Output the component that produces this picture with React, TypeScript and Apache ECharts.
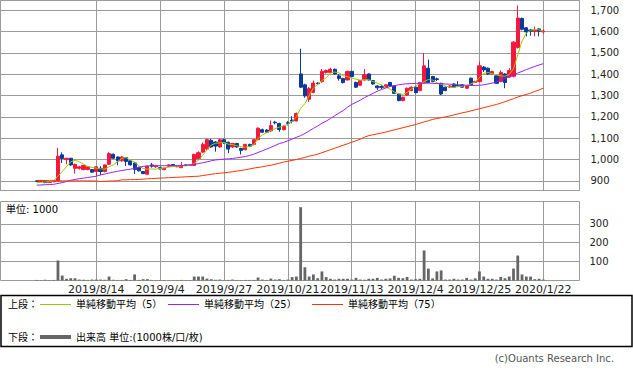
import React, { useEffect, useRef } from 'react';
import * as echarts from 'echarts';

// ---- trading dates (Tokyo market) ----
const jul2019 = [11, 12, 16, 17, 18, 19, 22, 23, 24, 25, 26, 29, 30, 31];
const aug2019 = [1, 2, 5, 6, 7, 8, 9, 13, 14, 15, 16, 19, 20, 21, 22, 23, 26, 27, 28, 29, 30];
const sep2019 = [2, 3, 4, 5, 6, 9, 10, 11, 12, 13, 17, 18, 19, 20, 24, 25, 26, 27, 30];
const oct2019 = [1, 2, 3, 4, 7, 8, 9, 10, 11, 15, 16, 17, 18, 21, 23, 24, 25, 28, 29, 30, 31];
const nov2019 = [1, 5, 6, 7, 8, 11, 12, 13, 14, 15, 18, 19, 20, 21, 22, 25, 26, 27, 28, 29];
const dec2019 = [2, 3, 4, 5, 6, 9, 10, 11, 12, 13, 16, 17, 18, 19, 20, 23, 24, 25, 26, 27, 30];
const jan2020 = [6, 7, 8, 9, 10, 14, 15, 16, 17, 20, 21, 22, 23, 24, 27, 28, 29, 30, 31];
const feb2020 = [3];

const categories: string[] = [
  ...jul2019.map((d) => `2019/7/${d}`),
  ...aug2019.map((d) => `2019/8/${d}`),
  ...sep2019.map((d) => `2019/9/${d}`),
  ...oct2019.map((d) => `2019/10/${d}`),
  ...nov2019.map((d) => `2019/11/${d}`),
  ...dec2019.map((d) => `2019/12/${d}`),
  ...jan2020.map((d) => `2020/1/${d}`),
  ...feb2020.map((d) => `2020/2/${d}`),
];

const dateTicks = ['2019/8/14', '2019/9/4', '2019/9/27', '2019/10/21', '2019/11/13', '2019/12/4', '2019/12/25', '2020/1/22'];
const priceTickMin = 900;
const priceTickMax = 1700;
const volumeTicks = [100, 200, 300];

// values per trading day from 2019/7/11 (no trades before 7/24)
const N = null;
const openP = [N, N, N, N, N, N, N, N,
  900, 898, 900, 893, 896, 900, 1022, 1000, 1006, 959,
  959, 953, 953, 953, 944, 959, 944, 978, 1025, 1012,
  994, 1009, 994, 984, 962, 944, 931, 975, 966, 962,
  953, 969, 977, 966, 962, 975, 972, 972, 1004, 1035,
  1049, 1090, 1082, 1059, 1093, 1081, 1059, 1075, 1052, 1046,
  1071, 1071, 1093, 1140, 1138, 1134, 1175, 1169, 1140, 1172,
  1185, 1181, 1401, 1350, 1282, 1315, 1358, 1365, 1408, 1408,
  1423, 1392, 1380, 1373, 1413, 1361, 1348, 1373, 1401, 1370,
  1345, 1342, 1339, 1361, 1345, 1307, 1276, 1302, 1323, 1339,
  1323, 1361, 1428, 1389, 1378, 1357, 1339, 1339, 1354, 1348,
  1350, 1334, 1381, 1361, 1365, 1433, 1428, 1401, 1392, 1365,
  1401, 1386, 1390, 1525, 1661, 1617, 1607, 1600, 1612, 1598];
const closeP = [N, N, N, N, N, N, N, N,
  898, 901, 892, 896, 899, 1016, 1005, 1006, 975, 978,
  966, 973, 966, 941, 966, 944, 975, 1028, 1006, 994,
  1012, 991, 975, 953, 947, 934, 969, 969, 972, 956,
  959, 975, 972, 969, 972, 972, 975, 1024, 1032, 1071,
  1093, 1059, 1063, 1093, 1078, 1049, 1075, 1059, 1043, 1071,
  1062, 1093, 1147, 1128, 1128, 1159, 1172, 1140, 1156, 1170,
  1180, 1216, 1339, 1298, 1332, 1358, 1355, 1413, 1417, 1423,
  1401, 1380, 1361, 1413, 1389, 1339, 1370, 1397, 1373, 1354,
  1336, 1338, 1350, 1345, 1310, 1276, 1292, 1334, 1339, 1313,
  1361, 1439, 1361, 1365, 1375, 1307, 1323, 1345, 1339, 1344,
  1339, 1345, 1350, 1366, 1439, 1420, 1401, 1412, 1357, 1408,
  1361, 1417, 1550, 1663, 1610, 1598, 1601, 1606, 1601, 1602];
const lowP = [N, N, N, N, N, N, N, N,
  897, 896, 889, 891, 894, 898, 984, 978, 970, 934,
  953, 950, 950, 938, 923, 927, 940, 975, 1003, 973,
  990, 970, 972, 933, 944, 932, 929, 962, 962, 954,
  950, 966, 970, 964, 960, 970, 970, 970, 1000, 1030,
  1045, 1055, 1037, 1055, 1074, 1030, 1055, 1055, 1024, 1043,
  1058, 1068, 1090, 1125, 1124, 1130, 1165, 1130, 1137, 1160,
  1169, 1178, 1335, 1290, 1270, 1310, 1350, 1360, 1403, 1405,
  1398, 1370, 1356, 1370, 1386, 1335, 1345, 1370, 1370, 1350,
  1326, 1330, 1336, 1342, 1307, 1273, 1273, 1299, 1320, 1310,
  1320, 1358, 1358, 1362, 1368, 1302, 1320, 1336, 1336, 1339,
  1336, 1331, 1347, 1358, 1362, 1410, 1398, 1396, 1354, 1362,
  1334, 1383, 1385, 1520, 1605, 1577, 1580, 1577, 1577, 1590];
const highP = [N, N, N, N, N, N, N, N,
  903, 903, 902, 898, 901, 1055, 1034, 1008, 1008, 980,
  970, 975, 968, 955, 968, 969, 977, 1034, 1028, 1014,
  1016, 1012, 996, 988, 966, 946, 971, 984, 975, 964,
  962, 977, 978, 972, 988, 977, 977, 1028, 1038, 1080,
  1098, 1096, 1086, 1097, 1098, 1084, 1078, 1078, 1055, 1074,
  1074, 1096, 1150, 1145, 1142, 1183, 1181, 1172, 1160, 1180,
  1203, 1220, 1519, 1355, 1340, 1370, 1362, 1424, 1422, 1430,
  1426, 1401, 1383, 1416, 1416, 1365, 1373, 1424, 1404, 1373,
  1348, 1350, 1353, 1364, 1348, 1310, 1295, 1337, 1342, 1342,
  1364, 1499, 1468, 1392, 1384, 1360, 1342, 1349, 1357, 1367,
  1353, 1348, 1384, 1369, 1460, 1438, 1431, 1416, 1395, 1417,
  1404, 1428, 1555, 1722, 1665, 1620, 1612, 1623, 1614, 1610];
const volume = [N, N, N, N, N, N, N, N,
  3, 2, 4, 2, 3, 106, 26, 9, 12, 12,
  5, 4, 3, 5, 5, 5, 4, 21, 4, 3,
  3, 7, 3, 32, 3, 7, 7, 3, 2, 2,
  2, 1, 2, 2, 3, 2, 2, 21, 21, 21,
  10, 7, 4, 5, 2, 3, 5, 3, 2, 3,
  3, 3, 16, 5, 3, 10, 5, 7, 3, 5,
  18, 21, 388, 70, 21, 32, 12, 48, 18, 9,
  5, 9, 9, 9, 5, 14, 5, 4, 9, 9,
  14, 5, 9, 11, 25, 14, 12, 19, 5, 7,
  9, 159, 63, 11, 48, 53, 5, 5, 9, 5,
  5, 14, 5, 11, 48, 21, 9, 9, 5, 19,
  12, 21, 63, 132, 32, 21, 21, 7, 9, 5];
const ma5 = [N, N, N, N, N, N, N, N,
  891, 893, 895, 897, 900, 923, 944, 966, 990, 996,
  990, 978, 968, 963, 960, 956, 955, 966, 975, 990,
  1006, 1009, 998, 987, 970, 958, 955, 956, 955, 958,
  962, 964, 967, 969, 970, 971, 973, 982, 996, 1020,
  1046, 1068, 1076, 1078, 1080, 1072, 1070, 1065, 1060, 1058,
  1062, 1068, 1100, 1115, 1126, 1136, 1145, 1152, 1158, 1165,
  1178, 1200, 1240, 1262, 1300, 1335, 1352, 1370, 1383, 1405,
  1410, 1406, 1393, 1388, 1382, 1376, 1372, 1374, 1374, 1365,
  1358, 1349, 1339, 1330, 1316, 1308, 1305, 1314, 1330, 1345,
  1356, 1365, 1375, 1372, 1360, 1352, 1345, 1340, 1338, 1343,
  1343, 1347, 1355, 1362, 1385, 1403, 1408, 1402, 1397, 1392,
  1390, 1398, 1425, 1490, 1555, 1592, 1606, 1609, 1608, 1601];
const ma25 = [N, N, N, N, N, N, N, N,
  880, 881, 882, 883, 884, 888, 892, 897, 903, 907,
  910, 913, 916, 919, 922, 928, 932, 937, 941, 945,
  949, 952, 955, 959, 964, 968, 970, 971, 971, 971,
  971, 971, 971, 972, 972, 973, 975, 978, 981, 985,
  989, 994, 998, 1000, 1002, 1003, 1005, 1008, 1011, 1014,
  1019, 1025, 1033, 1041, 1049, 1057, 1066, 1075, 1080, 1088,
  1096, 1104, 1112, 1122, 1134, 1146, 1157, 1170, 1180, 1192,
  1205, 1218, 1230, 1245, 1258, 1268, 1278, 1290, 1300, 1310,
  1320, 1328, 1335, 1342, 1346, 1350, 1353, 1355, 1356, 1357,
  1357, 1357, 1358, 1357, 1356, 1355, 1354, 1353, 1352, 1350,
  1349, 1348, 1347, 1347, 1348, 1350, 1354, 1358, 1364, 1372,
  1380, 1388, 1397, 1405, 1413, 1421, 1429, 1436, 1443, 1449];
const ma75 = [N, N, N, N, N, N, N, N,
  902, 902, 902, 901, 901, 901, 900, 900, 900, 900,
  900, 900, 900, 900, 899, 897, 898, 899, 900, 901,
  905, 905, 906, 906, 907, 908, 910, 911, 912, 913,
  914, 915, 916, 917, 918, 919, 920, 921, 922, 925,
  928, 931, 934, 936, 938, 940, 943, 946, 949, 952,
  956, 960, 963, 966, 970, 973, 978, 983, 988, 992,
  996, 1000, 1005, 1010, 1016, 1020, 1025, 1032, 1039, 1046,
  1053, 1060, 1067, 1074, 1081, 1088, 1095, 1105, 1112, 1116,
  1120, 1124, 1129, 1134, 1139, 1144, 1149, 1154, 1159, 1164,
  1170, 1176, 1182, 1188, 1192, 1196, 1200, 1204, 1209, 1214,
  1219, 1223, 1228, 1233, 1238, 1243, 1248, 1253, 1258, 1264,
  1271, 1278, 1285, 1293, 1299, 1305, 1311, 1319, 1326, 1334];

const maNames = ['単純移動平均（5）', '単純移動平均（25）', '単純移動平均（75）'];
const volumeName = '出来高 単位:(1000株/口/枚)';
const volumeUnit = '単位: 1000';
const upperLabel = '上段：';
const lowerLabel = '下段：';
const credit = '(c)Ouants Research Inc.';

const FONT = "'DejaVu Sans', 'Noto Sans CJK JP', sans-serif";
const UP = '#f7163c';
const DOWN = '#0a3a9c';
const MA_COLORS = ['#99cc00', '#9a22f0', '#ff3300'];
const VOL_COLOR = '#666666';
const GRID = '#9a9a9a';

const isTick = (_i: number, v: string) => dateTicks.includes(v);
const dash = (v: number | null) => (v == null ? '-' : v);

export default function App() {
  const ref = useRef<HTMLDivElement>(null);
  useEffect(() => {
    if (!ref.current) return;
    const chart = echarts.init(ref.current, undefined, { renderer: 'svg' });
    const candleData = openP.map((o, i) =>
      o == null ? ['-', '-', '-', '-'] : [o, closeP[i], lowP[i], highP[i]]
    );
    const maSeries = [ma5, ma25, ma75].map((arr, k) => ({
      name: maNames[k],
      type: 'line',
      xAxisIndex: 0,
      yAxisIndex: 0,
      data: arr.map(dash),
      symbol: 'none',
      lineStyle: { color: MA_COLORS[k], width: 1 },
      itemStyle: { color: MA_COLORS[k] },
      silent: true,
      z: 3,
    }));
    const txt = (text: string, x: number, y: number, extra: any = {}) => ({
      type: 'text',
      x,
      y,
      silent: true,
      style: {
        text,
        fontSize: 10,
        fontFamily: FONT,
        fill: '#000',
        verticalAlign: 'middle',
        textVerticalAlign: 'middle',
        ...extra,
      },
    });
    const legendLineX = [40, 168, 312];
    const graphic: any[] = [
      {
        type: 'rect',
        silent: true,
        shape: { x: 1, y: 295.5, width: 631, height: 51 },
        style: { fill: 'rgba(0,0,0,0)', stroke: '#000', lineWidth: 1.5 },
      },
      txt(upperLabel, 8, 304),
      txt(lowerLabel, 8, 337),
      ...maNames.flatMap((name, k) => [
        {
          type: 'line',
          silent: true,
          shape: { x1: legendLineX[k], y1: 304.5, x2: legendLineX[k] + 31, y2: 304.5 },
          style: { stroke: MA_COLORS[k], lineWidth: 1 },
        },
        txt(name, legendLineX[k] + 36, 304),
      ]),
      {
        type: 'line',
        silent: true,
        shape: { x1: 40, y1: 337, x2: 71, y2: 337 },
        style: { stroke: VOL_COLOR, lineWidth: 4 },
      },
      txt(volumeName, 76, 337),
      txt(volumeUnit, 6, 209),
      txt(credit, 614, 358, { fill: '#555', align: 'right', textAlign: 'right' }),
    ];

    const option: any = {
      animation: false,
      backgroundColor: '#ffffff',
      textStyle: { fontFamily: FONT },
      grid: [
        { left: 0.5, top: 0.5, width: 579, height: 190, show: true, borderColor: GRID, borderWidth: 1, backgroundColor: 'transparent' },
        { left: 0.5, top: 201.5, width: 579, height: 79, show: true, borderColor: GRID, borderWidth: 1, backgroundColor: 'transparent' },
      ],
      xAxis: [0, 1].map((g) => ({
        type: 'category',
        gridIndex: g,
        data: categories,
        boundaryGap: true,
        axisLine: { show: false },
        axisTick: { show: false },
        axisLabel: {
          show: g === 1,
          interval: isTick,
          fontSize: 11,
          fontFamily: FONT,
          color: '#222',
          margin: 3,
        },
        splitLine: {
          show: true,
          interval: isTick,
          alignWithLabel: true,
          lineStyle: { color: GRID, width: 1 },
        },
      })),
      yAxis: [
        {
          type: 'value',
          gridIndex: 0,
          position: 'right',
          min: 855,
          max: 1745,
          splitNumber: 9,
          axisLine: { show: false },
          axisTick: { show: false },
          axisLabel: {
            showMinLabel: false,
            showMaxLabel: false,
            margin: 11,
            fontSize: 10,
            fontFamily: FONT,
            color: '#222',
            formatter: (v: number) =>
              v >= priceTickMin && v <= priceTickMax ? v.toLocaleString('en-US') : '',
          },
          splitLine: { lineStyle: { color: GRID, width: 1 } },
        },
        {
          type: 'value',
          gridIndex: 1,
          position: 'right',
          min: 0,
          max: 418,
          interval: 100,
          axisLine: { show: false },
          axisTick: { show: false },
          axisLabel: {
            margin: 10,
            fontSize: 10,
            fontFamily: FONT,
            color: '#222',
            formatter: (v: number) => (volumeTicks.includes(v) ? String(v) : ''),
          },
          splitLine: {
            lineStyle: {
              color: ['rgba(0,0,0,0)', GRID, GRID, GRID, 'rgba(0,0,0,0)', 'rgba(0,0,0,0)'],
              width: 1,
            },
          },
        },
      ],
      series: [
        {
          name: 'price',
          type: 'candlestick',
          xAxisIndex: 0,
          yAxisIndex: 0,
          data: candleData,
          barWidth: 3.6,
          silent: true,
          itemStyle: {
            color: UP,
            color0: DOWN,
            borderColor: UP,
            borderColor0: DOWN,
            borderWidth: 1,
          },
        },
        ...maSeries,
        {
          name: 'volume',
          type: 'bar',
          xAxisIndex: 1,
          yAxisIndex: 1,
          data: volume.map(dash),
          barWidth: 2.8,
          silent: true,
          itemStyle: { color: VOL_COLOR },
        },
      ],
      graphic,
    };
    chart.setOption(option);
    return () => chart.dispose();
  }, []);
  return (
    <div
      ref={ref}
      style={{ position: 'absolute', left: 0, top: 0, width: 633, height: 373, background: '#fff' }}
    />
  );
}
